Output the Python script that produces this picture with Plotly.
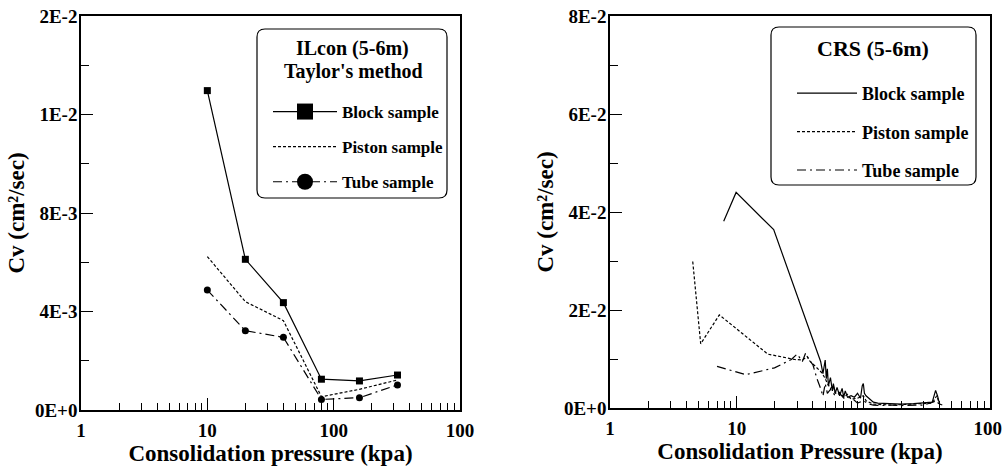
import plotly.graph_objects as go

# ---------------- data: left panel (ILcon, Taylor's method) ----------------
p_left = [10, 20, 40, 80, 160, 320]
block_left = [0.01297, 0.00612, 0.00436, 0.00125, 0.00118, 0.00142]
piston_left = [0.00623, 0.00440, 0.00363, 0.00054, 0.00084, 0.00122]
tube_left = [0.00487, 0.00322, 0.00295, 0.00043, 0.00050, 0.00102]

# ---------------- data: right panel (CRS) ----------------
block_p = [7.9, 9.9, 19.6, 29.6, 46, 48, 50, 51, 52, 53, 55, 57, 58, 60, 62, 65, 68, 70,
           72, 75, 80, 85, 90, 95, 98, 100, 102, 105, 110, 120, 130, 150, 200, 250, 300,
           350, 372, 385, 400, 420]
block_cv = [0.0381, 0.0440, 0.0364, 0.0234, 0.0095, 0.0070, 0.0098, 0.0060, 0.0080, 0.0045,
            0.0062, 0.0035, 0.0050, 0.0030, 0.0042, 0.0025, 0.0040, 0.0022, 0.0035, 0.0022,
            0.0025, 0.0022, 0.0030, 0.0020, 0.0045, 0.0050, 0.0030, 0.0025, 0.0020, 0.0012,
            0.0010, 0.0009, 0.0008, 0.0009, 0.0010, 0.0012, 0.0036, 0.0025, 0.0008, 0.0006]

piston_p = [4.5, 5.2, 7.3, 17.6, 28.7, 33, 36, 38, 40, 44, 47, 50, 52, 55, 58, 60, 65, 70,
            75, 80, 90, 100, 105, 110, 120, 140, 170, 200, 250, 300, 350, 380, 400]
piston_cv = [0.0299, 0.0131, 0.0190, 0.0110, 0.0099, 0.0098, 0.0105, 0.0095, 0.0090, 0.0080,
             0.0072, 0.0060, 0.0050, 0.0040, 0.0045, 0.0030, 0.0032, 0.0022, 0.0028, 0.0018,
             0.0020, 0.0025, 0.0015, 0.0012, 0.0008, 0.0007, 0.0006, 0.0007, 0.0008, 0.0008,
             0.0010, 0.0025, 0.0008]

tube_p = [7.0, 11.8, 19.9, 27, 30, 33, 35, 37, 40, 43, 46, 48, 50, 52, 55, 60, 65, 70, 80,
          90, 100, 110, 120, 140, 170, 200, 300, 380, 400]
tube_cv = [0.0085, 0.0068, 0.0082, 0.0099, 0.0110, 0.0095, 0.0112, 0.0100, 0.0088, 0.0060,
           0.0040, 0.0024, 0.0050, 0.0030, 0.0038, 0.0025, 0.0030, 0.0020, 0.0022, 0.0010,
           0.0015, 0.0008, 0.0006, 0.0005, 0.0006, 0.0005, 0.0006, 0.0015, 0.0005]

# ---------------- ticks ----------------
x_tickvals = [1, 10, 100, 1000]
x_ticktext = ["1", "10", "100", "100"]
x_ticktext_right = ["1", "10", "100", "100\u00a0"]
x_minor = [2, 3, 4, 5, 6, 7, 8, 9, 20, 30, 40, 50, 60, 70, 80, 90,
           200, 300, 400, 500, 600, 700, 800, 900]
yl_tickvals = [0, 0.004, 0.008, 0.012, 0.016]
yl_ticktext = ["0E+0", "4E-3", "8E-3", "1E-2", "2E-2"]
yr_tickvals = [0, 0.02, 0.04, 0.06, 0.08]
yr_ticktext = ["0E+0", "2E-2", "4E-2", "6E-2", "8E-2"]

FONT = "Liberation Serif"
SOLID = "solid"
DASH = "3px,2px"
DASHDOT = "9px,4px,2px,4px"

fig = go.Figure()

# left panel data traces
fig.add_trace(go.Scatter(x=p_left, y=block_left, mode="lines+markers", showlegend=False,
                         line=dict(color="black", width=1.2, dash=SOLID),
                         marker=dict(symbol="square", size=7, color="black"),
                         xaxis="x", yaxis="y"))
fig.add_trace(go.Scatter(x=p_left, y=piston_left, mode="lines", showlegend=False,
                         line=dict(color="black", width=1.2, dash=DASH),
                         xaxis="x", yaxis="y"))
fig.add_trace(go.Scatter(x=p_left, y=tube_left, mode="lines+markers", showlegend=False,
                         line=dict(color="black", width=1.2, dash=DASHDOT),
                         marker=dict(symbol="circle", size=7, color="black"),
                         xaxis="x", yaxis="y"))
# left legend entries
fig.add_trace(go.Scatter(x=[None], y=[None], mode="lines+markers", name="Block sample",
                         legend="legend", legendgroup="a",
                         line=dict(color="black", width=1.2, dash=SOLID),
                         marker=dict(symbol="square", size=18, color="black"),
                         xaxis="x", yaxis="y"))
fig.add_trace(go.Scatter(x=[None], y=[None], mode="lines", name="Piston sample",
                         legend="legend", legendgroup="b",
                         line=dict(color="black", width=1.2, dash=DASH),
                         xaxis="x", yaxis="y"))
fig.add_trace(go.Scatter(x=[None], y=[None], mode="lines+markers", name="Tube sample",
                         legend="legend", legendgroup="c",
                         line=dict(color="black", width=1.2, dash=DASHDOT),
                         marker=dict(symbol="circle", size=18, color="black"),
                         xaxis="x", yaxis="y"))

# right panel traces
fig.add_trace(go.Scatter(x=block_p, y=block_cv, mode="lines", name="Block sample",
                         legend="legend2", legendgroup="d",
                         line=dict(color="black", width=1.2, dash=SOLID),
                         xaxis="x2", yaxis="y2"))
fig.add_trace(go.Scatter(x=piston_p, y=piston_cv, mode="lines", name="Piston sample",
                         legend="legend2", legendgroup="e",
                         line=dict(color="black", width=1.2, dash=DASH),
                         xaxis="x2", yaxis="y2"))
fig.add_trace(go.Scatter(x=tube_p, y=tube_cv, mode="lines", name="Tube sample",
                         legend="legend2", legendgroup="f",
                         line=dict(color="black", width=1.2, dash=DASHDOT),
                         xaxis="x2", yaxis="y2"))

W, H = 1002, 467


def px_x(v):
    return v / W


def px_y(v):
    return 1 - v / H


TICKFONT = dict(family=FONT, size=19, color="black", weight="bold")
TITLEFONT = dict(family=FONT, size=23, color="black", weight="bold")

common_x = dict(type="log", range=[0, 3], showgrid=False, zeroline=False,
                showline=True, linecolor="black", linewidth=1.5, mirror=True,
                ticks="inside", ticklen=12, tickwidth=1.2, tickcolor="black",
                tickvals=x_tickvals, tickfont=TICKFONT,
                ticklabelstandoff=2, ticklabeloverflow="allow",
                minor=dict(ticks="inside", ticklen=7, tickwidth=1, tickcolor="black",
                           tickvals=x_minor, showgrid=False),
                automargin=False)
common_y = dict(showgrid=False, zeroline=False, showline=True, linecolor="black",
                linewidth=1.5, mirror=True, ticks="inside", ticklen=12, tickwidth=1.2,
                tickcolor="black", tickfont=TICKFONT, ticklabelstandoff=-2,
                automargin=False)

fig.update_layout(
    width=W, height=H, margin=dict(l=0, r=0, t=0, b=0),
    paper_bgcolor="white", plot_bgcolor="white",
    font=dict(family=FONT, color="black", weight="bold"),
    xaxis=dict(common_x, domain=[px_x(81), px_x(460)], anchor="y", ticktext=x_ticktext,
               title=dict(text="Consolidation pressure (kpa)", standoff=2, font=TITLEFONT)),
    yaxis=dict(common_y, domain=[px_y(410), px_y(16)], anchor="x", range=[0, 0.016],
               tickvals=yl_tickvals, ticktext=yl_ticktext,
               minor=dict(ticks="inside", ticklen=8, tickwidth=1, tickcolor="black",
                          dtick=0.002, showgrid=False),
               title=dict(text="Cv (cm²/sec)", standoff=4, font=TITLEFONT)),
    xaxis2=dict(common_x, domain=[px_x(610), px_x(990)], anchor="y2",
                ticktext=x_ticktext_right,
                title=dict(text="Consolidation Pressure (kpa)", standoff=2, font=TITLEFONT)),
    yaxis2=dict(common_y, domain=[px_y(408), px_y(16)], anchor="x2", range=[0, 0.08],
                tickvals=yr_tickvals, ticktext=yr_ticktext,
                minor=dict(ticks="inside", ticklen=8, tickwidth=1, tickcolor="black",
                           dtick=0.01, showgrid=False),
                title=dict(text="Cv (cm²/sec)", standoff=4, font=TITLEFONT)),
    legend=dict(x=px_x(268), y=px_y(94), xanchor="left", yanchor="top",
                bgcolor="rgba(0,0,0,0)", borderwidth=0, tracegroupgap=10,
                itemwidth=64,
                font=dict(family=FONT, size=17, weight="bold")),
    legend2=dict(x=px_x(792), y=px_y(75), xanchor="left", yanchor="top",
                 bgcolor="rgba(0,0,0,0)", borderwidth=0, tracegroupgap=12,
                 itemwidth=60,
                 font=dict(family=FONT, size=18, weight="bold")),
    annotations=[
        dict(text="ILcon (5-6m)", x=px_x(352), y=px_y(48), xref="paper", yref="paper",
             showarrow=False, xanchor="center", yanchor="middle",
             font=dict(family=FONT, size=20, weight="bold")),
        dict(text="Taylor's method", x=px_x(353), y=px_y(71), xref="paper", yref="paper",
             showarrow=False, xanchor="center", yanchor="middle",
             font=dict(family=FONT, size=20, weight="bold")),
        dict(text="CRS (5-6m)", x=px_x(873), y=px_y(48), xref="paper", yref="paper",
             showarrow=False, xanchor="center", yanchor="middle",
             font=dict(family=FONT, size=22, weight="bold")),
    ],
)


def rounded_box(x0, y0, x1, y1, r):
    X0, X1 = px_x(x0), px_x(x1)
    Y0, Y1 = px_y(y0), px_y(y1)
    rx, ry = r / W, r / H
    return (f"M {X0+rx},{Y0} L {X1-rx},{Y0} Q {X1},{Y0} {X1},{Y0-ry} "
            f"L {X1},{Y1+ry} Q {X1},{Y1} {X1-rx},{Y1} L {X0+rx},{Y1} "
            f"Q {X0},{Y1} {X0},{Y1+ry} L {X0},{Y0-ry} Q {X0},{Y0} {X0+rx},{Y0} Z")


fig.add_shape(type="path", xref="paper", yref="paper", path=rounded_box(257, 29, 447, 198, 8),
              line=dict(color="black", width=1.2), fillcolor="rgba(0,0,0,0)", layer="above")
fig.add_shape(type="path", xref="paper", yref="paper", path=rounded_box(771, 27, 976, 185, 8),
              line=dict(color="black", width=1.2), fillcolor="rgba(0,0,0,0)", layer="above")

fig.write_html(
    "out.html",
    config={"displayModeBar": False},
    post_script="document.body.style.margin='0px';"
                "document.documentElement.style.overflow='hidden';",
)
